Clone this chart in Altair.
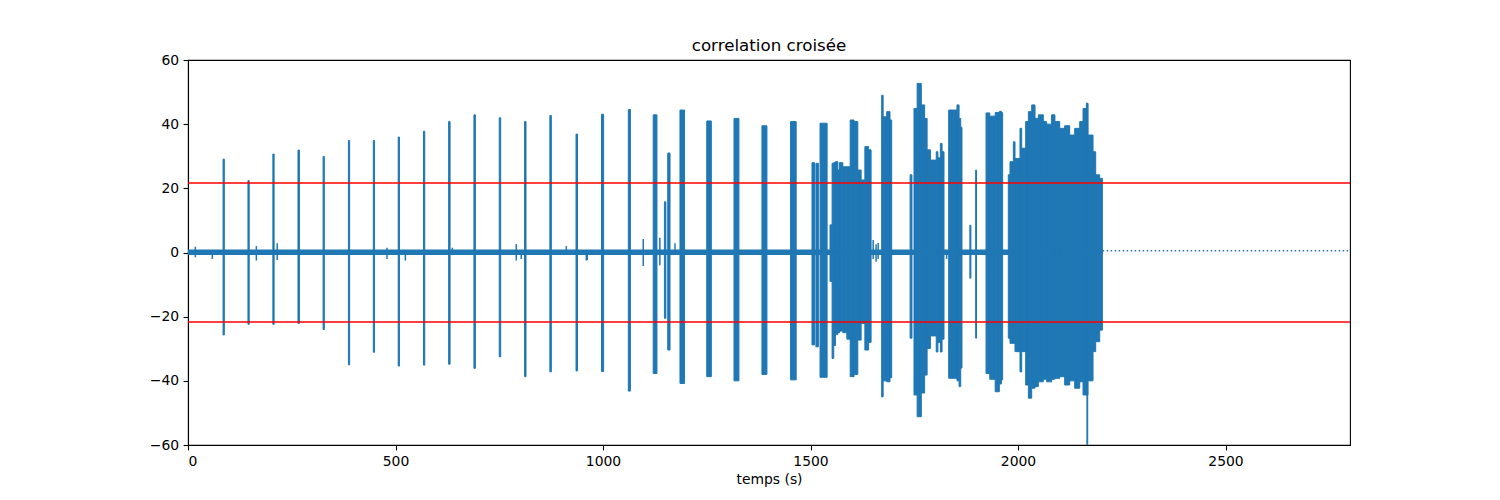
import altair as alt
import pandas as pd

BLUE = "#1f77b4"

# ---- isolated spikes (start s, end s, max, min) ----
spike_start = [84.5, 144.5, 204.5, 265, 325.5, 386.5, 446.5, 506.5, 567.5, 628, 689, 750, 811, 872, 935,
               996.5, 1061, 1121, 1148, 1156, 1185.5, 1250, 1315.7, 1383, 1452,
               1503.6, 1513, 1523, 1740, 1884, 1898, 2166]
spike_end = [87.5, 147.5, 207.5, 268.5, 328.5, 389.5, 449.5, 509.5, 570.5, 631.5, 692.5, 753.5, 814.5, 875.5, 938.5,
             1001.5, 1066, 1130, 1151.5, 1161.5, 1196.5, 1261, 1327.5, 1395, 1465.5,
             1509.5, 1519, 1540, 1744.5, 1886.5, 1900, 2168]
spike_top = [29.1, 22.4, 30.7, 31.9, 29.9, 34.9, 34.9, 36.0, 37.8, 40.8, 42.9, 42.0, 40.8, 42.7, 36.9,
             43.1, 44.6, 42.9, 15.8, 31.0, 44.4, 41.0, 41.8, 39.5, 40.8,
             28.0, 27.8, 40.3, 24.2, 8.5, 25.7, 46.5]
spike_bottom = [-25.7, -22.4, -22.4, -22.1, -24.0, -35.0, -31.1, -35.4, -35.1, -34.8, -36.1, -32.5, -38.7, -37.2, -36.9,
                -37.1, -43.2, -37.7, -20.5, -30.4, -40.8, -38.7, -40.0, -38.0, -39.7,
                -28.8, -29.4, -38.9, -26.7, -8.0, -26.7, -61.0]

# ---- dense bursts: stepped envelope (id, time, max, min); last row of a burst = its end ----
burst_id = (["A"] * 15 + ["C"] * 5 + ["D"] * 11 + ["E"] * 5 + ["F"] * 6 + ["G"] * 27)
burst_time = [1547, 1552, 1556, 1560, 1566, 1570, 1578, 1587.6, 1595.6, 1605, 1614, 1622, 1631, 1640, 1646,
              1671.5, 1675, 1683.6, 1691.6, 1695.6,
              1749.4, 1757, 1767, 1775, 1781, 1789, 1803, 1807, 1813, 1817, 1821.7,
              1833, 1853, 1858, 1862, 1865,
              1923, 1932, 1945, 1955, 1960, 1963,
              1976.6, 1980.7, 1988.8, 1992.8, 2004.8, 2008.9, 2018.5, 2025, 2033, 2041, 2049, 2061, 2069,
              2081, 2089, 2100.5, 2112.5, 2124.6, 2136.6, 2148.7, 2156.7, 2164.7, 2168.7, 2180.8, 2187.2,
              2196.9, 2203.3]
burst_top = [8.6, 27.8, 28.0, 28.3, 25.7, 28.0, 26.7, 26.7, 41.3, 40.8, 25.7, 22.6, 33.0, 32.0, 32.0,
             49.0, 42.3, 43.9, 41.3, 41.3,
             44.9, 52.7, 46.0, 41.8, 32.0, 28.8, 31.4, 29.5, 34.0, 31.4, 31.4,
             44.4, 46.0, 41.8, 39.0, 39.0,
             43.5, 42.5, 43.6, 44.0, 43.6, 43.6,
             24.2, 28.3, 34.5, 29.3, 38.7, 32.5, 40.8, 43.9, 46.0, 41.8, 42.9, 40.8, 40.0,
             42.9, 40.8, 38.7, 39.5, 36.6, 38.7, 40.8, 44.9, 46.5, 36.6, 31.4, 24.2,
             23.1, 23.1]
burst_bottom = [-9.0, -33.0, -29.0, -25.5, -25.0, -24.5, -25.0, -27.0, -38.7, -38.0, -27.3, -22.1, -30.4, -28.0, -28.0,
                -45.0, -40.0, -40.3, -39.0, -39.0,
                -44.4, -51.2, -43.8, -38.2, -29.9, -26.0, -31.0, -28.0, -31.0, -27.0, -27.0,
                -39.2, -40.0, -41.8, -36.0, -36.0,
                -37.7, -39.5, -43.4, -41.0, -39.7, -39.7,
                -26.7, -28.3, -28.3, -30.9, -37.2, -30.9, -41.3, -45.4, -42.3, -41.8, -40.3, -39.5, -40.3,
                -39.5, -39.2, -38.7, -41.3, -40.0, -42.3, -40.3, -44.4, -44.4, -40.0, -30.9, -27.8,
                -24.2, -24.2]

# ---- small noise excursions on the baseline (time, max, min) ----
bump_time = [17.7, 58.6, 164.7, 215, 479.5, 523.7, 637, 791, 803, 911.6, 959.8, 962,
             1097, 1137, 1173.5, 1651, 1658, 1663, 1828]
bump_high = [1.8, 0.8, 2.0, 2.9, 1.5, 0.8, 1.5, 2.6, 0.8, 2.0, 0.8, 0.8,
             4.2, 4.6, 2.9, 3.9, 2.5, 3.0, 0.8]
bump_low = [-1.5, -2.0, -2.5, -2.3, -2.0, -2.5, -0.8, -2.5, -2.0, -0.8, -2.5, -2.3,
            -4.2, -4.0, -0.8, -2.0, -2.9, -2.0, -2.0]

# ---- baseline noise band, constant tail, thresholds ----
base_start = [0]
base_end = [2204]
base_high = [0.9]
base_low = [-0.8]
tail_time = [2204, 2800]
tail_value = [0.56, 0.56]
threshold = [21.7, -21.7]

x_ticks = [0, 500, 1000, 1500, 2000, 2500]
y_ticks = [-60, -40, -20, 0, 20, 40, 60]

spikes = pd.DataFrame({"t0": spike_start, "t1": spike_end, "hi": spike_top, "lo": spike_bottom})
bursts = pd.DataFrame({"id": burst_id, "t0": burst_time, "hi": burst_top, "lo": burst_bottom})
bursts["t1"] = bursts.groupby("id")["t0"].shift(-1)
bursts = bursts.dropna(subset=["t1"])
bumps = pd.DataFrame({"t": bump_time, "hi": bump_high, "lo": bump_low})
base = pd.DataFrame({"t0": base_start, "t1": base_end, "hi": base_high, "lo": base_low})
tail = pd.DataFrame({"t": tail_time, "v": tail_value})
thr = pd.DataFrame({"v": threshold})

xs = alt.Scale(domain=[0, 2800], nice=False, zero=False)
ys = alt.Scale(domain=[-60, 60], nice=False, zero=False)
xax = alt.Axis(values=x_ticks, title="temps (s)", format="d")
yax = alt.Axis(values=y_ticks, title=None, format="d",
               labelExpr="replace(datum.label, '-', '−')")

base_layer = alt.Chart(base).mark_rect(color=BLUE, clip=True).encode(
    x=alt.X("t0:Q", scale=xs, axis=xax), x2="t1:Q",
    y=alt.Y("lo:Q", scale=ys, axis=yax), y2="hi:Q")

bump_layer = alt.Chart(bumps).mark_rule(color=BLUE, strokeWidth=1.5, clip=True).encode(
    x=alt.X("t:Q", scale=xs), y=alt.Y("lo:Q", scale=ys), y2="hi:Q")

spike_layer = alt.Chart(spikes).mark_rect(color=BLUE, stroke=BLUE, strokeWidth=1.0, clip=True).encode(
    x=alt.X("t0:Q", scale=xs), x2="t1:Q",
    y=alt.Y("lo:Q", scale=ys), y2="hi:Q")

burst_layer = alt.Chart(bursts).mark_rect(color=BLUE, stroke=BLUE, strokeWidth=1.0, clip=True).encode(
    x=alt.X("t0:Q", scale=xs), x2="t1:Q",
    y=alt.Y("lo:Q", scale=ys), y2="hi:Q")

tail_layer = alt.Chart(tail).mark_line(color=BLUE, strokeWidth=1.5, strokeDash=[1.5, 2.5],
                                       strokeCap="butt", clip=True).encode(
    x=alt.X("t:Q", scale=xs), y=alt.Y("v:Q", scale=ys))

thr_layer = alt.Chart(thr).mark_rule(color="red", strokeWidth=1.5).encode(
    y=alt.Y("v:Q", scale=ys))

chart = alt.layer(base_layer, bump_layer, spike_layer, burst_layer, tail_layer, thr_layer).properties(
    width=1162, height=385,
    title=alt.TitleParams("correlation croisée", fontSize=16.7, fontWeight="normal",
                          font="DejaVu Sans", color="black", anchor="middle", offset=-2),
    autosize=alt.AutoSizeParams(type="none"),
    padding={"left": 180, "top": 52, "right": 142, "bottom": 47},
).configure_view(
    stroke="black", strokeWidth=1.1
).configure_axis(
    grid=False, labelFont="DejaVu Sans", labelFontSize=13.9, labelColor="black",
    titleFont="DejaVu Sans", titleFontSize=13.9, titleFontWeight="normal", titleColor="black",
    tickColor="black", domainColor="black", tickSize=4.9, labelPadding=4.5, tickWidth=1.1,
    domainWidth=1.1, titlePadding=4
)

chart.save("out.html", embed_options={"renderer": "svg", "actions": False})
